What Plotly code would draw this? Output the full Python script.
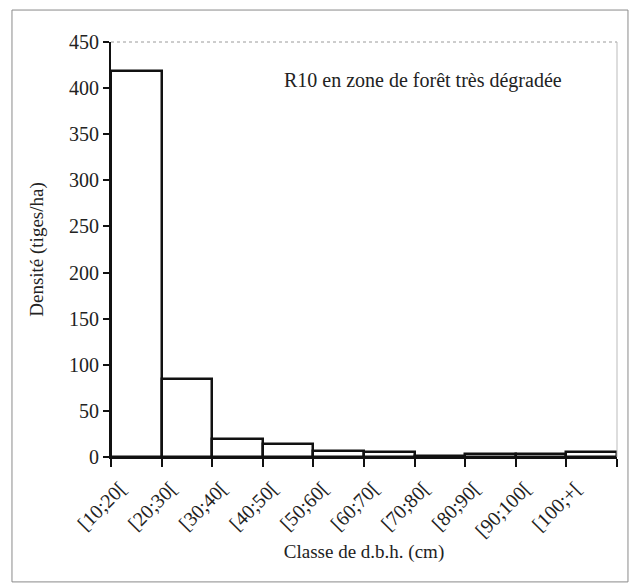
import plotly.graph_objects as go

categories = ["[10;20[", "[20;30[", "[30;40[", "[40;50[", "[50;60[",
              "[60;70[", "[70;80[", "[80;90[", "[90;100[", "[100;+["]
densite = [419, 85, 19, 14, 7, 5, 1.5, 3.5, 3, 5]
y_ticks = [0, 50, 100, 150, 200, 250, 300, 350, 400, 450]

title_text = "R10 en zone de forêt très dégradée"
x_title = "Classe de d.b.h. (cm)"
y_title = "Densité (tiges/ha)"

FONT = "Liberation Serif"

fig = go.Figure(
    go.Bar(
        x=categories,
        y=densite,
        marker=dict(color="white", line=dict(color="#111", width=2.5)),
        hoverinfo="x+y",
    )
)

fig.update_layout(
    width=631,
    height=587,
    margin=dict(l=111, r=14, t=42, b=130),
    paper_bgcolor="white",
    plot_bgcolor="white",
    bargap=0,
    showlegend=False,
    font=dict(family=FONT, size=18, color="#222"),
)

fig.update_xaxes(
    type="category",
    range=[-0.5, 9.5],
    showline=True,
    linecolor="#111",
    linewidth=2,
    ticks="outside",
    tickson="boundaries",
    ticklen=8,
    tickcolor="#111",
    tickwidth=1.5,
    tickangle=-45,
    ticklabelstandoff=10,
    ticklabelshift=-16,
    tickfont=dict(family=FONT, size=20, color="#222"),
    showgrid=False,
    title=dict(text=x_title, font=dict(family=FONT, size=19, color="#222"), standoff=4),
)

fig.update_yaxes(
    range=[0, 450],
    tickvals=y_ticks,
    showline=True,
    linecolor="#111",
    linewidth=2,
    ticks="outside",
    ticklen=6,
    tickcolor="#111",
    tickwidth=1.5,
    tickfont=dict(family=FONT, size=20, color="#222"),
    showgrid=False,
    zeroline=False,
    title=dict(text=y_title, font=dict(family=FONT, size=19, color="#222"), standoff=20),
)

# plot-area top and right borders (faint)
fig.add_shape(type="line", xref="paper", yref="paper", x0=0, x1=1, y0=1, y1=1,
              line=dict(color="#9a9a9a", width=1, dash="dot"))
fig.add_shape(type="line", xref="paper", yref="paper", x0=1, x1=1, y0=0, y1=1,
              line=dict(color="#bbbbbb", width=1))
# outer frame of the figure
fig.add_shape(type="rect", xref="paper", yref="paper",
              x0=-0.1957, x1=1.0217, y0=-0.301, y1=1.077,
              line=dict(color="#8a8a8a", width=1), fillcolor="rgba(0,0,0,0)", layer="below")

fig.add_annotation(
    text=title_text,
    xref="paper", yref="paper",
    x=0.617, y=0.94,
    showarrow=False,
    font=dict(family=FONT, size=20, color="#222"),
)

fig.write_html("out.html", config={"displayModeBar": False},
               post_script="document.body.style.margin='0';")
